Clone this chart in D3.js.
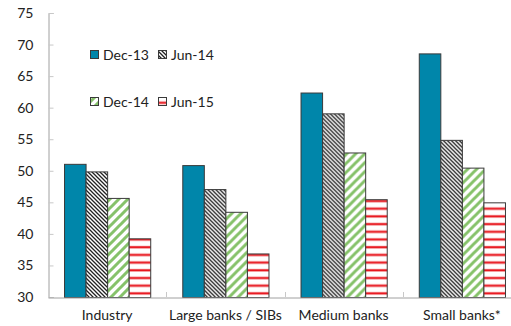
<!DOCTYPE html>
<html>
<head>
<meta charset="utf-8">
<script src="https://cdn.jsdelivr.net/npm/d3@7"></script>
<style>
  html, body { margin: 0; padding: 0; background: #fff; }
  svg { display: block; }
  text { font-family: Lato, "Open Sans", sans-serif; fill: #222; }
</style>
</head>
<body>
<svg id="chart" width="511" height="326"></svg>
<script>
// Bank groups along the x axis
const categories = ["Industry", "Large banks / SIBs", "Medium banks", "Small banks*"];
// One entry per reporting date
const seriesNames = ["Dec-13", "Jun-14", "Dec-14", "Jun-15"];
const dec13 = [51.1, 50.9, 62.4, 68.6];
const jun14 = [49.9, 47.1, 59.1, 54.9];
const dec14 = [45.7, 43.5, 52.9, 50.5];
const jun15 = [39.3, 36.9, 45.5, 45.0];
const yTicks = [30, 35, 40, 45, 50, 55, 60, 65, 70, 75];

const seriesValues = [dec13, jun14, dec14, jun15];
const fills = ["#0086aa", "url(#pJun14)", "url(#pDec14)", "url(#pJun15)"];

const svg = d3.select("#chart");
const defs = svg.append("defs");

// Dense black diagonal hatch
const p1 = defs.append("pattern").attr("id", "pJun14").attr("patternUnits", "userSpaceOnUse")
  .attr("width", 4).attr("height", 4);
p1.append("rect").attr("width", 4).attr("height", 4).attr("fill", "#fff");
p1.append("path").attr("d", "M-1,-1 L5,5 M-1,3 L1,5 M3,-1 L5,1")
  .attr("stroke", "#222").attr("stroke-width", 1.3);

// Wide green diagonal stripes
const p2 = defs.append("pattern").attr("id", "pDec14").attr("patternUnits", "userSpaceOnUse")
  .attr("width", 9).attr("height", 9);
p2.append("rect").attr("width", 9).attr("height", 9).attr("fill", "#fff");
p2.append("path").attr("d", "M-2,11 L11,-2 M-2,2 L2,-2 M7,11 L11,7")
  .attr("stroke", "#86c26a").attr("stroke-width", 3);

// Red horizontal lines
const p3 = defs.append("pattern").attr("id", "pJun15").attr("patternUnits", "userSpaceOnUse")
  .attr("width", 8).attr("height", 7.7).attr("y", 297);
p3.append("rect").attr("width", 8).attr("height", 7.7).attr("fill", "#fff");
p3.append("rect").attr("y", 2.6).attr("width", 8).attr("height", 3).attr("fill", "#f6b0b0");
p3.append("rect").attr("y", 3.2).attr("width", 8).attr("height", 1.8).attr("fill", "#e8141c");

const y = d3.scaleLinear().domain([30, 75]).range([297, 13]);
const x0 = d3.scaleBand().domain(categories).range([48, 521]).paddingInner(0).paddingOuter(0);
const x1 = d3.scaleBand().domain(seriesNames).range([0, x0.bandwidth()]).paddingInner(0).paddingOuter(0.744);

// Y axis
const yAxis = svg.append("g").attr("transform", "translate(48.5,0)")
  .call(d3.axisRight(y).tickValues(yTicks).tickSize(5).tickFormat(d3.format("d")));
yAxis.select(".domain").attr("stroke", "#a0a0a0");
yAxis.selectAll(".tick line").attr("stroke", "#c8c8c8");
yAxis.selectAll(".tick text").attr("x", -15).attr("text-anchor", "end")
  .attr("font-size", 14).attr("fill", "#222").style("font-family", "Lato, sans-serif");

// Bars
const groups = svg.append("g").selectAll("g").data(categories).join("g")
  .attr("transform", d => `translate(${x0(d)},0)`);
groups.selectAll("rect")
  .data((c, ci) => seriesNames.map((s, si) => ({ s, si, v: seriesValues[si][ci] })))
  .join("rect")
  .attr("x", d => x1(d.s) + 0.5)
  .attr("y", d => y(d.v) + 0.5)
  .attr("width", x1.bandwidth())
  .attr("height", d => y(30) - y(d.v))
  .attr("fill", d => fills[d.si])
  .attr("stroke", "#3a3a3a")
  .attr("stroke-width", 1);

// X axis
const xAxis = svg.append("g").attr("transform", "translate(0,297.5)")
  .call(d3.axisBottom(x0).tickSize(0).tickPadding(13));
xAxis.select(".domain").attr("stroke", "#a0a0a0");
xAxis.selectAll(".tick text").attr("font-size", 14).attr("fill", "#222")
  .style("font-family", "Lato, sans-serif");
// Group separator ticks
svg.append("g").selectAll("line").data(categories.slice(1)).join("line")
  .attr("x1", d => Math.round(x0(d)) + 0.5).attr("x2", d => Math.round(x0(d)) + 0.5)
  .attr("y1", 292).attr("y2", 297)
  .attr("stroke", "#c8c8c8");

// Legend
const legendPos = [[90, 55], [158, 55], [90, 102], [158, 102]];
const legend = svg.append("g").selectAll("g").data(seriesNames).join("g")
  .attr("transform", (d, i) => `translate(${legendPos[i][0]},${legendPos[i][1]})`);
legend.append("rect").attr("x", 0.5).attr("y", -4.5).attr("width", 8).attr("height", 8)
  .attr("fill", (d, i) => fills[i]).attr("stroke", "#3a3a3a");
legend.append("text").attr("x", 13).attr("y", 0).attr("dy", "0.35em")
  .attr("font-size", 14).text(d => d);
</script>
</body>
</html>
